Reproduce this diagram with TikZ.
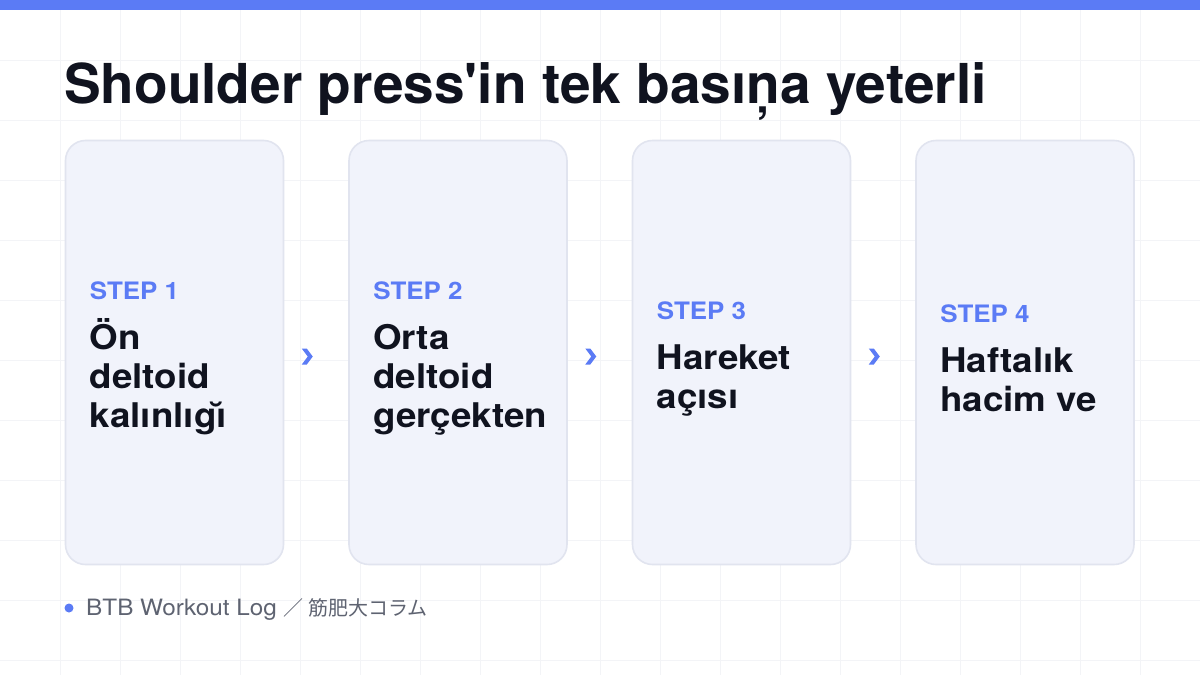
\documentclass[tikz,border=0pt]{standalone}
\usepackage{fontspec}
\setmainfont{TeX Gyre Heros}[Ligatures=TeXOff]
\newfontfamily\widefont{TeX Gyre Heros}[Ligatures=TeXOff,FakeStretch=1.08]
\newfontfamily\jpfont{Noto Sans CJK JP}
\usetikzlibrary{calc}

\definecolor{accent}{HTML}{5B7BF5}
\definecolor{ink}{HTML}{10131F}
\definecolor{cardfill}{HTML}{F1F3FB}
\definecolor{cardline}{HTML}{E1E4EF}
\definecolor{gridcol}{HTML}{F3F4F7}
\definecolor{muted}{HTML}{5E6371}

\tikzset{
  card/.style={draw=cardline, fill=cardfill, line width=1.6pt, rounded corners=20pt,
    minimum width=218pt, minimum height=424pt, inner sep=0pt},
  steptext/.style={anchor=west, align=left, inner sep=0pt, text=ink,
    font=\widefont\fontsize{34}{39}\selectfont\bfseries},
  chevron/.style={fill=accent}
}
\newcommand{\steplabel}[1]{{\fontsize{24}{28}\selectfont\color{accent}STEP #1}\\[11pt]}

\begin{document}
\begin{tikzpicture}[x=1pt,y=-1pt]
    \useasboundingbox (0,0) rectangle (1200,675);
    \fill[white] (0,0) rectangle (1200,675);

    % faint background grid
    \foreach \i in {60,120,...,1140} \draw[gridcol,line width=0.6pt] (\i,0) -- (\i,675);
    \foreach \j in {60,120,...,660} \draw[gridcol,line width=0.6pt] (0,\j) -- (1200,\j);
    \fill[accent] (0,0) rectangle (1200,10);

    \node[anchor=base west, inner sep=0pt, text=ink,
      font=\fontsize{55}{62}\selectfont\bfseries] (title) at (64,103)
      {Shoulder press'in tek basıņa yeterli};

    % the four cards
    \node[card] (card1) at (174.5,352.5) {};
    \node[card] (card2) at (458,352.5) {};
    \node[card] (card3) at (741.5,352.5) {};
    \node[card] (card4) at (1025,352.5) {};

    \node[steptext] (text1) at ($(card1.west)+(25,6)$)
      {\steplabel{1}Ön\\deltoid\\kalınlıgı̆};
    \node[steptext] (text2) at ($(card2.west)+(25,6)$)
      {\steplabel{2}Orta\\deltoid\\gerçekten};
    \node[steptext] (text3) at ($(card3.west)+(25,6)$)
      {\steplabel{3}Hareket\\açısı};
    \node[steptext] (text4) at ($(card4.west)+(25,6)$)
      {\steplabel{4}Haftalık\\hacim ve};

    % chevrons between cards
    \foreach \a/\b in {card1/card2,card2/card3,card3/card4}{
      \coordinate (m) at ($(\a.east)!0.5!(\b.west)+(-9,4)$);
      \fill[chevron] ($(m)+(-5.5,-8)$) -- ($(m)+(-0.5,-8)$) -- ($(m)+(5.5,0)$)
        -- ($(m)+(-0.5,8)$) -- ($(m)+(-5.5,8)$) -- ($(m)+(0.5,0)$) -- cycle;
    }

    % footer
    \fill[accent] (69,608) circle (4.5pt) coordinate (dot);
    \node[anchor=base west, inner sep=0pt, text=muted,
      font=\widefont\fontsize{22.5}{24}\selectfont] (footer) at (86,615)
      {BTB Workout Log {\jpfont\fontsize{20}{24}\selectfont ／ 筋肥大コラム}};
\end{tikzpicture}
\end{document}
